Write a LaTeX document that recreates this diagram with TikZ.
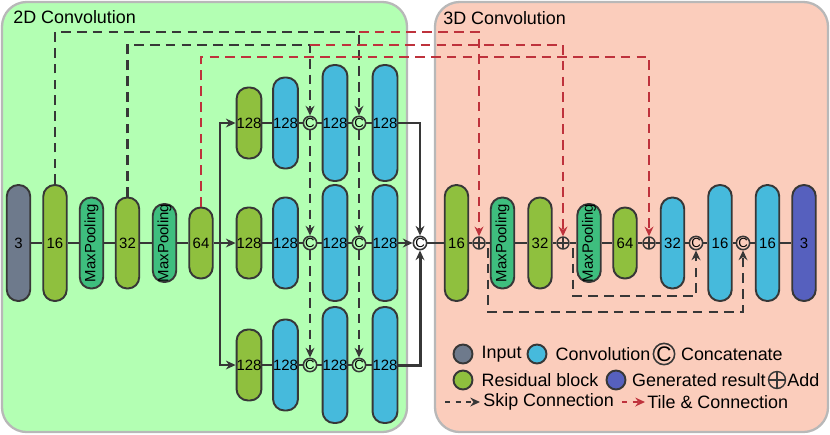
\documentclass[tikz,border=0pt]{standalone}
\usepackage{fontspec}
\setmainfont{Liberation Sans}
\definecolor{panelgreen}{RGB}{179,255,179}
\definecolor{panelsalmon}{RGB}{251,205,188}
\definecolor{inputgray}{RGB}{110,122,140}
\definecolor{resgreen}{RGB}{143,192,62}
\definecolor{poolgreen}{RGB}{62,190,126}
\definecolor{convblue}{RGB}{70,186,220}
\definecolor{outblue}{RGB}{86,96,190}
\definecolor{tilered}{RGB}{190,50,60}
\definecolor{edgegray}{RGB}{55,55,55}
\usetikzlibrary{positioning, arrows.meta}

\begin{document}
\begin{tikzpicture}[x=0.02cm, y=-0.02cm,
    panel/.style={draw=black!28, line width=1.3pt, rounded corners=14pt},
    blk/.style={draw=edgegray, line width=1.1pt, rounded corners=6.5pt, minimum width=0.47cm,
      inner sep=0pt, font=\fontsize{8.5}{9}\selectfont},
    hiblk/.style={blk, minimum height=2.32cm},
    mdblk/.style={blk, minimum height=1.82cm},
    loblk/.style={blk, minimum height=1.42cm},
    inp/.style={fill=inputgray}, res/.style={fill=resgreen}, pool/.style={fill=poolgreen},
    conv/.style={fill=convblue}, gen/.style={fill=outblue},
    catnode/.style={circle, draw=edgegray, line width=0.9pt, inner sep=0pt, minimum size=0.24cm,
      font=\fontsize{7.5}{7.5}\selectfont},
    addnode/.style={circle, draw=edgegray, line width=0.8pt, inner sep=0pt, minimum size=0.24cm,
      path picture={\draw[edgegray, line width=0.8pt]
        (path picture bounding box.north) -- (path picture bounding box.south)
        (path picture bounding box.west) -- (path picture bounding box.east);}},
    flow/.style={draw=edgegray, line width=1.2pt},
    arr/.style={-{Stealth[length=5.5pt, width=5pt]}},
    skipline/.style={draw=edgegray, line width=1.4pt, dash pattern=on 5.5pt off 3.5pt},
    tileline/.style={draw=tilered, line width=1.4pt, dash pattern=on 5.5pt off 3.5pt},
    legdot/.style={circle, draw=edgegray, line width=1.1pt, minimum size=0.38cm, inner sep=0pt},
    legtxt/.style={font=\fontsize{10.2}{12}\selectfont, inner sep=0pt, anchor=west},
  ]
    \useasboundingbox (0,0) rectangle (830,434);
    \draw[panel, fill=panelgreen] (2,2) rectangle (407,432);
    \draw[panel, fill=panelsalmon] (435,2) rectangle (828,432);
    \node[legtxt, anchor=base west] (t2d) at (13,23) {2D Convolution};
    \node[legtxt, anchor=base west] (t3d) at (443,24) {3D Convolution};

    \node[hiblk, inp] (in3) at (18.5,243) {3};
    \node[hiblk, res] (r16) at (55,243) {16};
    \node[mdblk, pool] (mp1) at (91.5,243) {\rotatebox{90}{MaxPooling}};
    \node[mdblk, res] (r32) at (127.5,243) {32};
    \node[loblk, pool] (mp2) at (164.5,243) {\rotatebox{90}{MaxPooling}};
    \node[loblk, res] (r64) at (201,243) {64};
    \coordinate (br) at (220,243);

    \node[loblk, res] (aRes) at (249,123) {128};
    \node[mdblk, conv] (aConv1) at (285.5,123) {128};
    \node[catnode] (aCat1) at (310,123) {C};
    \node[hiblk, conv] (aConv2) at (335,123) {128};
    \node[catnode] (aCat2) at (359,123) {C};
    \node[hiblk, conv] (aConv3) at (385,123) {128};

    \node[loblk, res] (bRes) at (249,243) {128};
    \node[mdblk, conv] (bConv1) at (285.5,243) {128};
    \node[catnode] (bCat1) at (310,243) {C};
    \node[hiblk, conv] (bConv2) at (335,243) {128};
    \node[catnode] (bCat2) at (359,243) {C};
    \node[hiblk, conv] (bConv3) at (385,243) {128};

    \node[loblk, res] (cRes) at (249,365) {128};
    \node[mdblk, conv] (cConv1) at (285.5,365) {128};
    \node[catnode] (cCat1) at (310,365) {C};
    \node[hiblk, conv] (cConv2) at (335,365) {128};
    \node[catnode] (cCat2) at (359,365) {C};
    \node[hiblk, conv] (cConv3) at (385,365) {128};

    \node[catnode] (cat) at (420,243) {C};
    \node[hiblk, res] (d16) at (456.5,243) {16};
    \node[addnode] (dAdd1) at (479,243) {};
    \node[mdblk, pool] (dMp1) at (502.5,243) {\rotatebox{90}{MaxPooling}};
    \node[mdblk, res] (d32) at (540,243) {32};
    \node[addnode] (dAdd2) at (563,243) {};
    \node[loblk, pool] (dMp2) at (589,243) {\rotatebox{90}{MaxPooling}};
    \node[loblk, res] (d64) at (625,243) {64};
    \node[addnode] (dAdd3) at (649,243) {};
    \node[mdblk, conv] (u32) at (672.5,243) {32};
    \node[catnode] (uCat1) at (696,243) {C};
    \node[hiblk, conv] (u16a) at (720,243) {16};
    \node[catnode] (uCat2) at (743,243) {C};
    \node[hiblk, conv] (u16b) at (767.5,243) {16};
    \node[hiblk, gen] (out3) at (804,243) {3};

    \foreach \a/\b in {in3/r16, r16/mp1, mp1/r32, r32/mp2, mp2/r64,
        aRes/aConv1, aConv1/aCat1, aCat1/aConv2, aConv2/aCat2, aCat2/aConv3,
        bConv1/bCat1, bRes/bConv1, bCat1/bConv2, bConv2/bCat2, bCat2/bConv3,
        cRes/cConv1, cConv1/cCat1, cCat1/cConv2, cConv2/cCat2, cCat2/cConv3,
        cat/d16, d16/dAdd1, dAdd1/dMp1, dMp1/d32, d32/dAdd2, dAdd2/dMp2, dMp2/d64,
        d64/dAdd3, dAdd3/u32, u32/uCat1, uCat1/u16a, u16a/uCat2, uCat2/u16b, u16b/out3}
      \draw[flow] (\a) -- (\b);
    \draw[flow, arr] (r64) -- (bRes);
    \draw[flow, arr] (br) |- (aRes);
    \draw[flow, arr] (br) |- (cRes);
    \draw[flow, arr] (aConv3) -| (cat);
    \draw[flow, arr] (bConv3) -- (cat);
    \draw[flow, arr, line width=1.7pt] (cConv3) -| (cat);

    \coordinate (h1) at (0,32);
    \coordinate (h2) at (0,45);
    \coordinate (h3) at (0,57);
    \draw[skipline, arr] (r16.north) |- (aCat2 |- h1) -- (aCat2);
    \draw[skipline, arr] (r32.north) |- (aCat1 |- h2) -- (aCat1);
    \draw[skipline, arr] (aCat1) -- (bCat1);
    \draw[skipline, arr] (bCat1) -- (cCat1);
    \draw[skipline, arr] (aCat2) -- (bCat2);
    \draw[skipline, arr] (bCat2) -- (cCat2);
    \draw[tileline, arr] (aCat2 |- h1) -| (dAdd1);
    \draw[tileline, arr] (aCat1 |- h2) -| (dAdd2);
    \draw[tileline, arr] (r64.north) |- (dAdd3 |- h3) -- (dAdd3);

    \coordinate (sk1) at (488,248);
    \coordinate (sk2) at (573,248);
    \coordinate (h4) at (0,312);
    \coordinate (h5) at (0,296);
    \draw[skipline, arr] (sk1) |- (uCat2 |- h4) -- (uCat2);
    \draw[skipline, arr] (sk2) |- (uCat1 |- h5) -- (uCat1);

    \node[legdot, fill=inputgray] (lgIn) at (463,354) {};
    \node[legtxt, right=4.5pt of lgIn] {Input};
    \node[legdot, fill=convblue] (lgConv) at (537,354) {};
    \node[legtxt, right=4.5pt of lgConv] {Convolution};
    \node[catnode, minimum size=0.38cm, font=\fontsize{12}{12}\selectfont] (lgCat) at (664,354) {C};
    \node[legtxt, right=3pt of lgCat] {Concatenate};
    \node[legdot, fill=resgreen] (lgRes) at (463,380) {};
    \node[legtxt, right=4.5pt of lgRes] {Residual block};
    \node[legdot, fill=outblue] (lgGen) at (616,380) {};
    \node[legtxt, right=3pt of lgGen] {Generated result};
    \node[addnode, minimum size=0.34cm] (lgAdd) at (777,380) {};
    \node[legtxt, right=0.5pt of lgAdd] {Add};
    \coordinate (lsA) at (445,402);
    \coordinate (lsB) at (480,402);
    \draw[skipline, arr, dash pattern=on 3pt off 3pt] (lsA) -- (lsB);
    \node[legtxt] at (483,402) {Skip Connection};
    \coordinate (ltA) at (622,402);
    \coordinate (ltB) at (645,402);
    \draw[tileline, arr, dash pattern=on 3pt off 3pt] (ltA) -- (ltB);
    \node[legtxt] at (647,402) {Tile \& Connection};
  \end{tikzpicture}
\end{document}
